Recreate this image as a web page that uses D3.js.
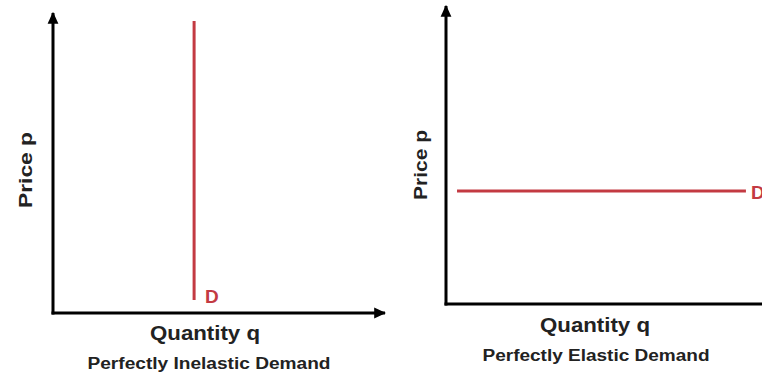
<!DOCTYPE html>
<html><head><meta charset="utf-8">
<script src="https://cdn.jsdelivr.net/npm/d3@7"></script>
<style>body{margin:0;background:#fff}svg{display:block}text{font-family:"Liberation Sans",Arial,sans-serif;font-weight:bold}</style>
</head><body>
<script>
// Data
const titles = ["Perfectly Inelastic Demand", "Perfectly Elastic Demand"];
const xLabels = ["Quantity q", "Quantity q"];
const yLabels = ["Price p", "Price p"];
const curveLabel = "D";
// inelastic demand: quantity fixed, price varies
const inelasticQ = [4.25, 4.25];
const inelasticP = [0.43, 9.73];
// elastic demand: price fixed, quantity varies
const elasticQ = [0.33, 8.98];
const elasticP = [3.79, 3.79];

const W = 762, H = 375;
const red = "#c33a42";
const svg = d3.select("body").append("svg").attr("width", W).attr("height", H);
const defs = svg.append("defs");
defs.append("marker").attr("id","arr").attr("viewBox","0 0 10 10").attr("refX",9).attr("refY",5)
  .attr("markerWidth",4).attr("markerHeight",4).attr("orient","auto")
  .attr("markerUnits","strokeWidth")
  .append("path").attr("d","M0,0.5L10,5L0,9.5Z").attr("fill","#000");

const layouts = [
  {x0:53, x1:385, y0:313, y1:13, q:inelasticQ, p:inelasticP,
   xl:{x:205, y:340, len:110}, tl:{x:209, y:369, len:243}, yl:{x:32, y:170, len:76},
   d:{x:205, y:303}},
  {x0:446, x1:780, y0:304, y1:6, q:elasticQ, p:elasticP,
   xl:{x:595, y:332, len:110}, tl:{x:596, y:361, len:227}, yl:{x:427, y:165, len:70},
   d:{x:751, y:199}}
];

layouts.forEach((L, i) => {
  const g = svg.append("g");
  const x = d3.scaleLinear().domain([0, 10]).range([L.x0, L.x1]);
  const y = d3.scaleLinear().domain([0, 10]).range([L.y0, L.y1]);
  // axes
  g.append("line").attr("x1", x(0)).attr("x2", x(0)).attr("y1", y(0)+1.5).attr("y2", y(10))
    .attr("stroke","#000").attr("stroke-width",3).attr("marker-end","url(#arr)");
  g.append("line").attr("x1", x(0)-1.5).attr("x2", x(10)).attr("y1", y(0)).attr("y2", y(0))
    .attr("stroke","#000").attr("stroke-width",3).attr("marker-end","url(#arr)");
  // demand curve
  const pts = L.q.map((q, k) => [q, L.p[k]]);
  g.append("path").datum(pts)
    .attr("d", d3.line().x(d => x(d[0])).y(d => y(d[1])))
    .attr("fill","none").attr("stroke", red).attr("stroke-width",3);
  g.append("text").attr("x", L.d.x).attr("y", L.d.y).attr("fill", red)
    .attr("font-size",19).text(curveLabel);
  // labels
  g.append("text").attr("x", L.xl.x).attr("y", L.xl.y).attr("text-anchor","middle")
    .attr("font-size",20).attr("fill","#222")
    .attr("textLength", L.xl.len).attr("lengthAdjust","spacingAndGlyphs").text(xLabels[i]);
  g.append("text").attr("x", L.tl.x).attr("y", L.tl.y).attr("text-anchor","middle")
    .attr("font-size",16).attr("fill","#222")
    .attr("textLength", L.tl.len).attr("lengthAdjust","spacingAndGlyphs").text(titles[i]);
  g.append("text").attr("transform", `translate(${L.yl.x},${L.yl.y}) rotate(-90)`)
    .attr("text-anchor","middle").attr("font-size",19).attr("fill","#222")
    .attr("textLength", L.yl.len).attr("lengthAdjust","spacingAndGlyphs").text(yLabels[i]);
});
</script>
</body></html>
